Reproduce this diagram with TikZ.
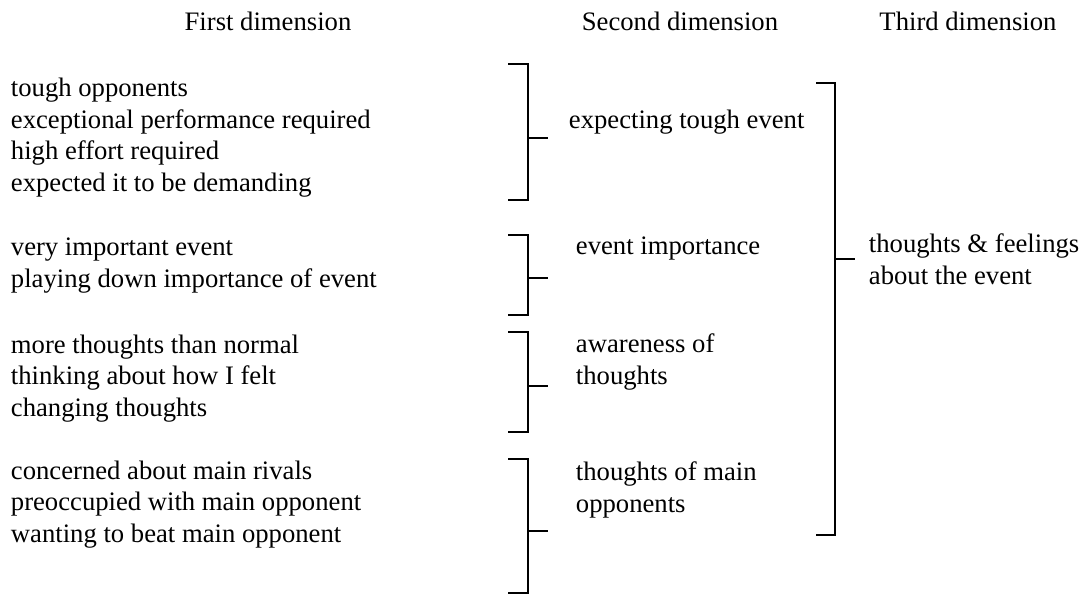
\documentclass[tikz,border=0pt]{standalone}
\usepackage{fontspec}
\setmainfont{Liberation Serif}
\begin{document}
\begin{tikzpicture}[x=0.375pt,y=-0.375pt,line width=0.7pt,
  txt/.style={inner sep=0pt,anchor=base west,align=left,font=\fontsize{10pt}{11.8pt}\selectfont},
  head/.style={inner sep=0pt,anchor=base,font=\fontsize{10pt}{11.8pt}\selectfont}]
\useasboundingbox (0,0) rectangle (1083,594);

\node[head] (h1) at (268,30) {First dimension};
\node[head] (h2) at (680,30) {Second dimension};
\node[head] (h3) at (968,30) {Third dimension};

% anchored at the baseline of the last line
\node[txt] (a1) at (10,191) {tough opponents\\exceptional performance required\\high effort required\\expected it to be demanding};
\node[txt] (a2) at (10,287) {very important event\\playing down importance of event};
\node[txt] (a3) at (10,416) {more thoughts than normal\\thinking about how I felt\\changing thoughts};
\node[txt] (a4) at (10,542) {concerned about main rivals\\preoccupied with main opponent\\wanting to beat main opponent};

\node[txt] (b1) at (568,128) {expecting tough event};
\node[txt] (b2) at (575,254) {event importance};
\node[txt] (b3) at (575,384) {awareness of\\thoughts};
\node[txt] (b4) at (575,512) {thoughts of main\\opponents};

\node[txt] (c1) at (868,284) {thoughts \& feelings\\about the event};

\draw (508,64) -- (528,64) -- (528,200) -- (508,200);
\draw (528,138) -- (548,138);

\draw (508,235) -- (528,235) -- (528,315) -- (508,315);
\draw (528,278) -- (548,278);

\draw (508,332) -- (528,332) -- (528,432) -- (508,432);
\draw (528,386) -- (548,386);

\draw (508,459) -- (528,459) -- (528,593) -- (508,593);
\draw (528,531) -- (548,531);

\draw (816,83) -- (835,83) -- (835,535) -- (816,535);
\draw (835,259) -- (855,259);
\end{tikzpicture}
\end{document}
